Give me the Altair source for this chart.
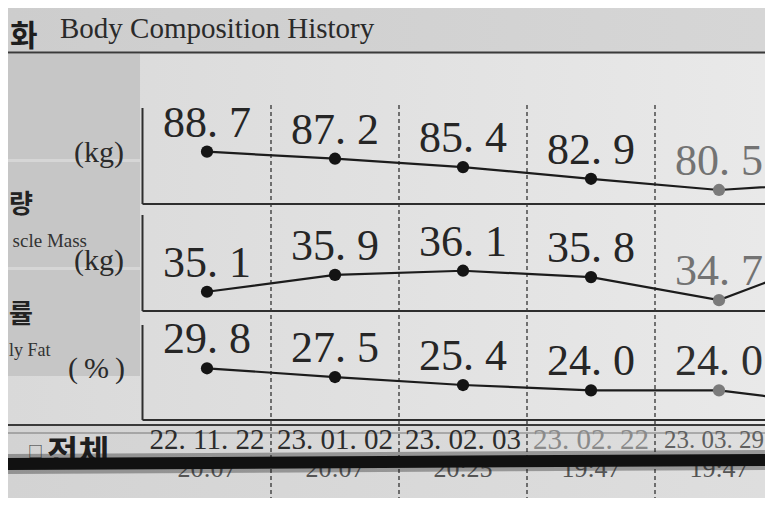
import altair as alt
import pandas as pd

# ---------------- data ----------------
dates = ["22. 11. 22", "23. 01. 02", "23. 02. 03", "23. 02. 22", "23. 03. 29"]
times = ["20:07", "20:07", "20:25", "19:47", "19:47"]
weight = [88.7, 87.2, 85.4, 82.9, 80.5]
muscle = [35.1, 35.9, 36.1, 35.8, 34.7]
body_fat = [29.8, 27.5, 25.4, 24.0, 24.0]
# next visit: only the start of its connecting line is inside the photo
weight_next = 82.2
muscle_next = 37.0
body_fat_next = 19.8
metric_ids = ["weight", "muscle", "fat"]
units = ["(kg)", "(kg)", "(\u2009%\u2009)"]
title_en = "Body Composition History"
# the photo crops these headings; only their visible parts are written
title_ko = "화"
row_ko = ["량", "률"]
row_en = ["scle Mass", "ly Fat"]
footer_ko = "전체"
footer_box = "□"

# ---------------- tables ----------------
rows = []
for mid, vals, nxt in zip(metric_ids, [weight, muscle, body_fat],
                          [weight_next, muscle_next, body_fat_next]):
    for i, v in enumerate(vals + [nxt]):
        rows.append({"metric": mid, "idx": i, "value": v})
df = pd.DataFrame(rows)
dates_df = pd.DataFrame({"idx": list(range(len(dates))), "date": dates, "time": times})
seps_df = pd.DataFrame({"sep": [i + 0.5 for i in range(len(dates))]})
LAST = len(dates) - 1

W, H = 757, 490
XSCALE = alt.Scale(domain=[-199 / 128, (W - 199) / 128], nice=False, zero=False)
X = alt.X("idx:Q", scale=XSCALE, axis=None)
DUMMY = alt.Data(values=[{"d": 0}])
SERIF = "Liberation Serif"
CJK = "Noto Sans CJK KR"


def rect(x0, x1, y0, y1, fill):
    return alt.Chart(DUMMY).mark_rect(color=fill, strokeWidth=0).encode(
        x=alt.value(x0), x2=alt.value(x1), y=alt.value(y0), y2=alt.value(y1))


def hline(y, x0, x1, color="#2e2e2e", width=2.0, opacity=1.0):
    return alt.Chart(DUMMY).mark_rule(color=color, strokeWidth=width, opacity=opacity).encode(
        x=alt.value(x0), x2=alt.value(x1), y=alt.value(y))


def vline(x, y0, y1, color="#2e2e2e", width=2.0):
    return alt.Chart(DUMMY).mark_rule(color=color, strokeWidth=width).encode(
        x=alt.value(x), y=alt.value(y0), y2=alt.value(y1))


def txt(s, x, y, size, font=SERIF, align="left", color="#2a2a2a", weight="normal"):
    return alt.Chart(DUMMY).mark_text(
        font=font, fontSize=size, align=align, baseline="alphabetic",
        color=color, fontWeight=weight).encode(
        x=alt.value(x), y=alt.value(y), text=alt.value(s))


def grad(c0, c1):
    return alt.LinearGradient(
        gradient="linear", x1=0, x2=1, y1=0, y2=0,
        stops=[alt.GradientStop(color=c0, offset=0), alt.GradientStop(color=c1, offset=1)])


layers = [
    # backgrounds
    rect(0, W, 0, 44, grad("#cdcdcd", "#d6d6d6")),
    rect(0, W, 46, 417, grad("#d9d9d9", "#e9e9e9")),
    rect(0, 132, 46, 368, "#c6c6c6"),
    rect(0, 132, 151, 154, "#d6d6d6"),
    rect(0, 132, 259, 262, "#d6d6d6"),
    rect(0, W, 417, H, grad("#d3d3d3", "#dedede")),
    # title
    txt(title_ko, 2, 38, 30, font=CJK, align="left", color="#1e1e1e", weight="bold"),
    txt(title_en, 52, 30, 29, color="#2a2a2a"),
    hline(44.5, 0, W, color="#3a3a3a", width=1.8),
    # left labels
    txt(units[0], 116, 154, 30, align="right"),
    txt(units[1], 116, 262, 30, align="right"),
    txt(units[2], 117, 370, 30, align="right"),
    txt(row_ko[0], 1, 205, 26, font=CJK, align="left", color="#222", weight="bold"),
    txt(row_en[0], 79, 239, 19, align="right", color="#333"),
    txt(row_ko[1], 1, 315, 26, font=CJK, align="left", color="#222", weight="bold"),
    txt(row_en[1], 1, 348, 18, align="left", color="#333"),
]
# panel frames
for top, bottom in [(100, 196), (207, 303), (317, 412)]:
    layers.append(vline(134.5, top, bottom))
    layers.append(hline(bottom, 134.5, W))
layers.append(hline(417, 0, W, color="#3a3a3a", width=1.8))
layers.append(hline(425, 0, W, color="#777777", width=1.0))

# dashed separators
layers.append(alt.Chart(seps_df).mark_rule(color="#333", strokeWidth=1.3, strokeDash=[4, 3]).encode(
    x=alt.X("sep:Q", scale=XSCALE, axis=None), y=alt.value(97), y2=alt.value(H)))

# series
domains = {"weight": [14.55, 119.47], "muscle": [25.28, 48.61], "fat": [-4.33, 124.6]}
last_label = {"weight": "#737373", "muscle": "#737373", "fat": "#2e2e2e"}
for mid in metric_ids:
    Y = alt.Y("value:Q", scale=alt.Scale(domain=domains[mid], nice=False, zero=False), axis=None)
    base = alt.Chart(df).transform_filter(alt.datum.metric == mid)
    layers.append(base.mark_line(color="#1c1c1c", strokeWidth=2.2).encode(x=X, y=Y))
    shown = base.transform_filter(alt.datum.idx < len(dates))
    layers.append(shown.mark_circle(size=150, opacity=1).encode(
        x=X, y=Y,
        color=alt.condition(alt.datum.idx == LAST, alt.value("#7b7b7b"), alt.value("#141414"))))
    layers.append(shown.transform_calculate(
        lab="replace(format(datum.value, '.1f'), '.', '. ')").mark_text(
        font=SERIF, fontSize=44, dy=-15, baseline="alphabetic", align="center").encode(
        x=X, y=Y, text="lab:N",
        color=alt.condition(alt.datum.idx == LAST, alt.value(last_label[mid]), alt.value("#262626"))))

# dates and times
layers.append(alt.Chart(dates_df).transform_filter(alt.datum.idx < LAST).transform_calculate(
    col="datum.idx == 3 ? '#8a8a8a' : '#2c2c2c'").mark_text(
    font=SERIF, fontSize=29, baseline="alphabetic", align="center").encode(
    x=X, y=alt.value(441), text="date:N", color=alt.Color("col:N", scale=None)))
layers.append(alt.Chart(dates_df).transform_filter(alt.datum.idx == LAST).mark_text(
    font=SERIF, fontSize=25, baseline="alphabetic", align="center", dx=-5, color="#606060").encode(
    x=X, y=alt.value(440), text="date:N"))
layers.append(alt.Chart(dates_df).mark_text(
    font=SERIF, fontSize=26, baseline="alphabetic", align="center", color="#555").encode(
    x=X, y=alt.value(469), text="time:N"))

# footer
layers.append(txt(footer_box, 20, 449, 15, font=CJK, color="#333"))
layers.append(txt(footer_ko, 39, 457, 34, font=CJK, color="#1e1e1e", weight="bold"))
# the thick black stroke across the bottom of the photo
layers.append(alt.Chart(DUMMY).mark_rule(color="#1a1a1a", strokeWidth=20, opacity=0.35).encode(
    x=alt.value(0), x2=alt.value(W), y=alt.value(456), y2=alt.value(452)))
layers.append(alt.Chart(DUMMY).mark_rule(color="#111111", strokeWidth=12).encode(
    x=alt.value(0), x2=alt.value(W), y=alt.value(456), y2=alt.value(452)))

chart = alt.layer(*layers).resolve_scale(y="independent").properties(
    width=W, height=H, padding=0,
    autosize=alt.AutoSizeParams(type="none"),
    background="#d9d9d9",
).configure_view(strokeWidth=0)

chart.save("out.html", embed_options={"renderer": "svg", "actions": False})
